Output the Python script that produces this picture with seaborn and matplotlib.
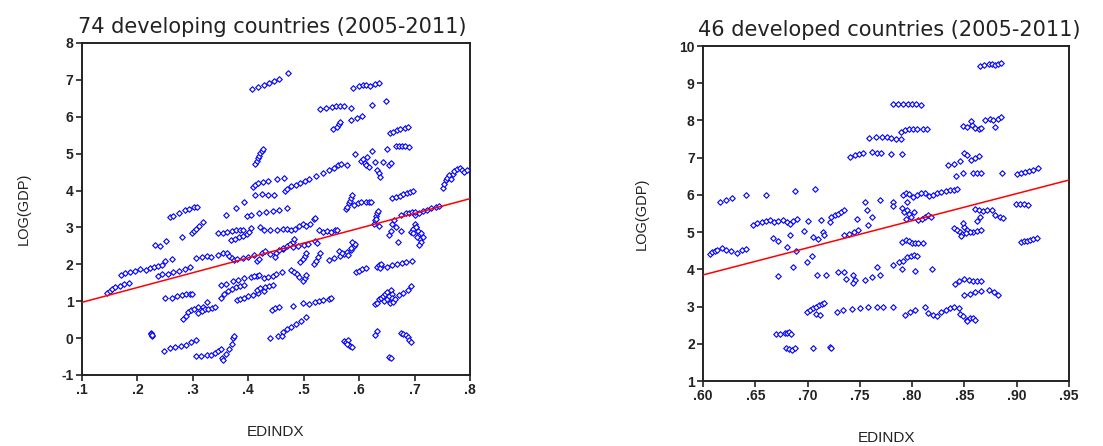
import matplotlib
matplotlib.use("Agg")
import matplotlib.pyplot as plt
import seaborn as sns
import pandas as pd

# 74 developing countries: EDINDX vs LOG(GDP)
dev_x = [
    .407, .418, .428, .438, .446, .456, .472,
    .589, .600, .607, .613, .620, .628, .635,
    .530, .541, .551, .558, .566, .572, .585, .624, .649,
    .553, .560, .564, .566, .586, .596, .606,
    .656, .662, .668, .674, .683, .689,
    .667, .672, .678, .683, .690,
    .592, .603, .607, .610, .612, .614, .617,
    .624, .628, .632, .635, .638, .643, .650, .653, .657,
    .466, .470, .478, .486, .494, .502, .510,
    .522, .534, .546, .555, .562, .568, .578,
    .408, .412, .418, .426, .436, .451, .465,
    .412, .415, .418, .420, .422, .424, .426,
    .360, .378, .393, .412, .425, .436, .446,
    .398, .405, .420, .432, .445, .455, .470,
    .345, .355, .362, .370, .378, .385, .390,
    .368, .376, .384, .390, .397, .402, .405,
    .422, .428, .440, .452, .462, .470, .478,
    .484, .491, .498, .504, .512, .518, .520,
    .528, .535, .542, .549, .556, .560, .520, .524,
    .576, .578, .582, .584, .586, .588,
    .590, .598, .604, .612, .618, .622,
    .626, .628, .630, .632, .634, .636, .630,
    .660, .667, .674, .680, .686, .692, .697,
    .752, .754, .756, .758, .762, .765, .770,
    .772, .776, .782, .786, .790, .795,
    .700, .708, .715, .722, .730, .738, .745,
    .676, .684, .690, .696, .700,
    .700, .703, .706, .708, .710, .712, .708,
    .694, .698, .702, .697, .705, .712, .716,
    .653, .657, .660, .663, .666, .670, .676,
    .640, .650, .660, .668, .677, .685, .695,
    .633, .636, .638, .640,
    .628, .632, .636, .640, .643, .646, .650,
    .645, .650, .654, .657, .660, .655, .660, .662, .664,
    .672, .680, .688, .694,
    .572, .576, .580, .582, .584, .588, .578,
    .632, .628, .654, .658,
    .675, .680, .684, .688, .690, .693,
    .594, .600, .606, .612,
    .454, .462, .470, .478, .486, .495, .505, .439, .460,
    .443, .448, .456, .480, .498, .510, .520, .528, .535, .545, .550,
    .478, .482, .488, .492, .498, .502, .505,
    .494, .498, .502, .504,
    .518, .522, .526, .529,
    .545, .555, .565, .572, .578, .585, .590,
    .564, .570, .580, .586, .592, .588,
    .462, .470, .476, .480, .482,
    .345, .355, .362, .365, .370, .375, .380,
    .390, .400, .410, .415, .420, .425,
    .306, .316, .325, .333,
    .215, .222, .230, .238, .245, .250, .262,
    .170, .178, .186, .196, .205,
    .145, .150, .155, .160, .168, .176, .185,
    .237, .245, .255, .265, .275, .285, .295,
    .232, .240, .252, .280,
    .258, .265, .275, .285, .293, .302, .307,
    .298, .302, .306, .312, .318,
    .250, .262, .272, .280, .288, .295, .298,
    .282, .288, .292, .297, .302, .310, .318,
    .310, .316, .322, .328, .334, .340, .326,
    .350, .360, .372, .382, .393, .405, .415,
    .350, .357, .363, .370, .378, .385, .392,
    .380, .386, .392, .400, .408, .418, .428,
    .410, .420, .428, .436, .444, .450, .460,
    .415, .422, .430, .438, .445,
    .224, .225, .226, .227,
    .248, .258, .268, .278, .288, .296, .306,
    .305, .315, .325, .333, .340,
    .345, .350, .352, .355, .360, .365, .370, .372, .374,
    .430, .440, .450, .455, .462, .448,
    .480, .490, .500, .508,
]
dev_y = [
    6.75, 6.80, 6.85, 6.92, 6.97, 7.02, 7.18,
    6.77, 6.84, 6.87, 6.87, 6.83, 6.90, 6.92,
    6.20, 6.24, 6.27, 6.29, 6.28, 6.28, 6.24, 6.33, 6.42,
    5.66, 5.72, 5.80, 5.85, 5.90, 5.96, 6.02,
    5.55, 5.60, 5.63, 5.66, 5.69, 5.73,
    5.21, 5.20, 5.20, 5.20, 5.19,
    5.00, 4.80, 4.85, 4.75, 4.70, 4.90, 4.65,
    5.08, 4.78, 4.55, 4.48, 4.38, 4.78, 5.13, 4.68, 4.75,
    3.98, 4.05, 4.12, 4.16, 4.20, 4.25, 4.32,
    4.40, 4.47, 4.55, 4.62, 4.68, 4.72, 4.68,
    4.10, 4.16, 4.20, 4.24, 4.27, 4.32, 4.35,
    4.72, 4.80, 4.88, 4.95, 5.02, 5.08, 5.12,
    3.35, 3.53, 3.70, 3.88, 3.90, 3.89, 3.88,
    3.32, 3.35, 3.40, 3.43, 3.44, 3.46, 3.52,
    2.85, 2.86, 2.88, 2.90, 2.92, 2.93, 2.92,
    2.67, 2.70, 2.73, 2.78, 2.83, 2.87, 2.98,
    3.02, 2.93, 2.92, 2.93, 2.95, 2.97, 2.92,
    2.95, 3.03, 3.08, 3.05, 3.10, 3.22, 3.25,
    2.92, 2.87, 2.90, 2.88, 2.92, 2.93, 2.62, 2.58,
    3.50, 3.55, 3.65, 3.72, 3.80, 3.88,
    3.60, 3.65, 3.68, 3.70, 3.70, 3.68,
    3.10, 3.20, 3.30, 3.38, 3.45, 3.05, 3.22,
    3.80, 3.83, 3.86, 3.90, 3.93, 3.96, 4.00,
    4.08, 4.18, 4.28, 4.35, 4.42, 4.32, 4.45,
    4.52, 4.58, 4.62, 4.55, 4.50, 4.55,
    3.35, 3.40, 3.45, 3.48, 3.52, 3.55, 3.58,
    3.35, 3.38, 3.40, 3.42, 3.43,
    3.10, 3.00, 2.90, 2.80, 2.70, 2.60, 2.53,
    2.88, 2.95, 3.02, 2.85, 2.75, 2.85, 2.75,
    2.80, 2.90, 3.10, 3.20, 3.00, 2.60, 2.90,
    1.95, 1.93, 1.97, 2.00, 2.03, 2.06, 2.10,
    1.92, 1.97, 1.90, 2.00,
    0.92, 0.95, 1.05, 1.10, 1.15, 1.20, 1.25,
    1.00, 1.05, 1.15, 1.30, 1.20, 0.95, 1.10, 0.98, 1.05,
    1.18, 1.22, 1.30, 1.40,
    -0.07, -0.10, -0.05, -0.18, -0.22, -0.25, -0.15,
    0.20, 0.08, -0.50, -0.55,
    0.15, 0.12, 0.08, 0.02, -0.05, -0.10,
    1.78, 1.82, 1.86, 1.90,
    0.05, 0.17, 0.25, 0.30, 0.38, 0.47, 0.58, 0.00, 0.07,
    0.75, 0.82, 0.83, 0.87, 0.95, 0.93, 0.98, 1.00, 1.03, 1.06, 1.08,
    1.85, 1.80, 1.75, 1.65, 1.55, 1.62, 1.70,
    2.05, 2.15, 2.22, 2.30,
    2.02, 2.10, 2.20, 2.30,
    2.12, 2.18, 2.22, 2.28, 2.33, 2.40, 2.50,
    2.35, 2.30, 2.25, 2.45, 2.55, 2.60,
    2.42, 2.50, 2.55, 2.60, 2.70,
    2.25, 2.30, 2.32, 2.22, 2.17, 2.12, 2.15,
    2.18, 2.20, 2.25, 2.10, 2.15, 2.30,
    2.18, 2.20, 2.22, 2.21,
    1.85, 1.90, 1.92, 1.95, 1.98, 2.08, 2.15,
    1.72, 1.76, 1.80, 1.82, 1.86,
    1.22, 1.28, 1.32, 1.38, 1.42, 1.47, 1.50,
    1.68, 1.73, 1.75, 1.78, 1.82, 1.87, 1.92,
    2.52, 2.50, 2.62, 2.73,
    3.28, 3.32, 3.40, 3.47, 3.50, 3.55, 3.56,
    2.85, 2.90, 2.95, 3.05, 3.15,
    1.08, 1.10, 1.14, 1.17, 1.19, 1.20, 1.20,
    0.52, 0.60, 0.70, 0.75, 0.80, 0.83, 0.85,
    0.68, 0.73, 0.78, 0.80, 0.82, 0.85, 0.97,
    1.45, 1.48, 1.55, 1.58, 1.62, 1.65, 1.68,
    1.10, 1.20, 1.28, 1.32, 1.38, 1.40, 1.45,
    1.02, 1.05, 1.10, 1.15, 1.18, 1.22, 1.28,
    1.68, 1.70, 1.62, 1.65, 1.68, 1.75, 1.78,
    1.30, 1.35, 1.38, 1.42, 1.45,
    0.15, 0.10, 0.05, 0.08,
    -0.35, -0.28, -0.25, -0.22, -0.18, -0.10, -0.05,
    -0.48, -0.48, -0.47, -0.45, -0.40,
    -0.35, -0.30, -0.55, -0.60, -0.42, -0.30, -0.15, 0.00, 0.05,
    2.35, 2.28, 2.32, 2.40, 2.45, 2.20,
    2.48, 2.50, 2.52, 2.55,
]

# 46 developed countries
dvd_x = [
    .865, .869, .873, .876, .879, .882, .885,
    .782, .786, .791, .796, .800, .804, .808,
    .789, .793, .797, .801, .805, .810, .814,
    .759, .765, .771, .776, .780, .785, .789,
    .741, .745, .749, .753, .762, .766, .770, .780, .790,
    .849, .852, .857, .860, .864, .856, .866,
    .870, .874, .877, .879, .882, .885,
    .834, .840, .846, .850, .852, .856, .860, .864,
    .842, .849, .858, .862, .866, .886,
    .900, .904, .908, .912, .916, .920,
    .899, .903, .907, .911,
    .904, .907, .910, .913, .916, .919,
    .860, .864, .868, .872, .876, .862, .865,
    .879, .884, .887, .858, .862, .866,
    .840, .843, .846, .848, .850, .852, .855, .849, .847, .851,
    .812, .816, .820, .824, .828, .832, .836, .840, .843,
    .791, .794, .797, .801, .805, .808, .795,
    .790, .792, .795, .797, .799, .802, .794,
    .806, .809, .812, .815, .818,
    .790, .794, .797, .800, .803, .806, .810,
    .795, .799, .802, .805,
    .782, .787, .791, .790, .803, .819,
    .841, .845, .850, .854, .858, .862, .866,
    .850, .855, .860, .866, .873, .878, .882,
    .812, .815, .820, .824, .828, .832, .836, .840, .845,
    .793, .798, .803,
    .846, .849, .852, .855, .858, .860, .852,
    .699, .702, .705, .708, .711, .714, .716, .708, .712,
    .728, .734, .742, .750, .758, .766, .772, .782,
    .670, .674, .678, .680, .682, .684,
    .679, .682, .685, .688, .705, .721, .722,
    .607, .609, .611, .613,
    .618, .622, .627, .632, .637, .641,
    .616, .622, .628, .641, .660, .688, .707,
    .648, .652, .656, .660, .664, .668, .672, .676, .680,
    .683, .686, .690, .700, .713, .721,
    .667, .672, .683, .697, .699, .704, .705, .710, .715, .716, .680, .689,
    .722, .726, .729, .732, .735,
    .735, .740, .744, .748,
    .747, .755, .757, .758, .762,
    .672, .686, .709, .718, .729, .735, .737, .743, .745, .743, .755, .762,
    .769, .766, .769, .782, .782,
]
dvd_y = [
    9.47, 9.49, 9.52, 9.51, 9.50, 9.53, 9.55,
    8.43, 8.45, 8.45, 8.43, 8.44, 8.43, 8.42,
    7.70, 7.74, 7.77, 7.78, 7.76, 7.77, 7.78,
    7.53, 7.55, 7.56, 7.55, 7.52, 7.51, 7.50,
    7.03, 7.06, 7.10, 7.13, 7.15, 7.12, 7.12, 7.10, 7.10,
    7.85, 7.83, 7.88, 7.80, 7.78, 7.98, 7.80,
    8.02, 8.03, 8.00, 7.82, 8.05, 8.08,
    6.80, 6.84, 6.90, 7.12, 7.08, 6.95, 7.00, 7.05,
    6.52, 6.58, 6.60, 6.58, 6.60, 6.60,
    6.55, 6.58, 6.62, 6.65, 6.68, 6.72,
    5.75, 5.76, 5.75, 5.74,
    4.73, 4.75, 4.77, 4.80, 4.82, 4.83,
    5.62, 5.60, 5.58, 5.60, 5.60, 5.30, 5.40,
    5.45, 5.40, 5.38, 5.00, 5.02, 5.05,
    5.10, 5.05, 5.00, 4.95, 5.15, 5.05, 5.00, 5.25, 4.90, 4.98,
    6.05, 5.97, 6.00, 6.05, 6.08, 6.10, 6.12, 6.13, 6.15,
    6.00, 6.05, 6.02, 5.95, 6.00, 6.05, 5.80,
    5.65, 5.55, 5.60, 5.50, 5.40, 5.55, 5.35,
    5.33, 5.35, 5.40, 5.45, 5.42,
    4.73, 4.78, 4.77, 4.72, 4.70, 4.71, 4.70,
    4.32, 4.35, 4.38, 4.36,
    4.13, 4.20, 4.22, 4.02, 3.95, 4.00,
    3.60, 3.70, 3.74, 3.72, 3.70, 3.70, 3.70,
    3.30, 3.35, 3.40, 3.43, 3.45, 3.38, 3.30,
    3.00, 2.82, 2.77, 2.75, 2.85, 2.90, 2.95, 2.98, 2.95,
    2.78, 2.85, 2.92,
    2.80, 2.75, 2.65, 2.70, 2.68, 2.65, 2.60,
    2.85, 2.90, 2.95, 3.00, 3.05, 3.08, 3.10, 2.80, 2.78,
    2.85, 2.90, 2.93, 2.95, 2.98, 3.00, 2.98, 2.98,
    2.25, 2.27, 2.30, 2.28, 2.32, 2.25,
    1.88, 1.85, 1.82, 1.90, 1.88, 1.92, 1.90,
    4.42, 4.46, 4.50, 4.53,
    4.57, 4.53, 4.48, 4.45, 4.52, 4.55,
    5.82, 5.85, 5.92, 6.00, 6.00, 6.10, 6.17,
    5.20, 5.25, 5.28, 5.30, 5.33, 5.28, 5.30, 5.32, 5.28,
    5.22, 5.30, 5.35, 5.30, 5.33, 5.28,
    4.85, 4.75, 4.93, 5.03, 4.20, 4.35, 4.88, 4.82, 5.00, 4.92, 4.60, 4.48,
    5.40, 5.45, 5.50, 5.55, 5.60,
    4.92, 4.95, 5.00, 5.05,
    5.35, 5.80, 5.60, 5.20, 5.40,
    3.82, 4.05, 3.85, 3.85, 3.93, 3.92, 3.75, 3.85, 3.72, 3.62, 3.72, 3.80,
    3.85, 4.05, 5.85, 5.80, 5.70,
]

# fitted regression lines (end points)
dev_fit_x = [0.10, 0.80]
dev_fit_y = [0.97, 3.78]
dvd_fit_x = [0.60, 0.95]
dvd_fit_y = [3.85, 6.40]

dev = pd.DataFrame({"EDINDX": dev_x, "LOGGDP": dev_y})
dvd = pd.DataFrame({"EDINDX": dvd_x, "LOGGDP": dvd_y})

sns.set_style("ticks")
plt.rcParams["font.family"] = ["Liberation Sans", "DejaVu Sans"]
plt.rcParams["axes.unicode_minus"] = False

fig = plt.figure(figsize=(11.03, 4.46), dpi=100)
ax1 = fig.add_axes([0.0743, 0.1592, 0.3518, 0.7444])
ax2 = fig.add_axes([0.6374, 0.1457, 0.3318, 0.7511])

panels = [
    (ax1, dev, dev_fit_x, dev_fit_y, "74 developing countries (2005-2011)",
     (0.1, 0.8), [.1, .2, .3, .4, .5, .6, .7, .8], 1, (-1, 8), range(-1, 9), 0.49),
    (ax2, dvd, dvd_fit_x, dvd_fit_y, "46 developed countries (2005-2011)",
     (0.60, 0.95), [.60, .65, .70, .75, .80, .85, .90, .95], 2, (1, 10), range(1, 11), 0.51),
]

for ax, df, fx, fy, title, xlim, xt, nd, ylim, yt, tx in panels:
    sns.scatterplot(data=df, x="EDINDX", y="LOGGDP", ax=ax, marker="D", s=8,
                    facecolor="white", edgecolor="#0000ff", linewidth=0.8, zorder=3)
    sns.lineplot(x=fx, y=fy, ax=ax, color="#ff0000", linewidth=1.1, zorder=4)
    ax.set_xlim(*xlim)
    ax.set_ylim(*ylim)
    ax.set_xticks(xt)
    ax.set_xticklabels(["." + f"{v:.{nd}f}".split(".")[1] for v in xt])
    ax.set_yticks(list(yt))
    ax.tick_params(labelsize=10, length=4, width=1.2, direction="out", pad=2,
                   colors="#222222")
    for lab in ax.get_xticklabels() + ax.get_yticklabels():
        lab.set_fontweight("bold")
    for sp in ax.spines.values():
        sp.set_visible(True)
        sp.set_linewidth(1.4)
        sp.set_color("#222222")
    ax.set_xlabel("EDINDX", fontsize=11, labelpad=20, color="#222222")
    ax.set_ylabel("LOG(GDP)", fontsize=10.5, labelpad=22, color="#222222")
    ax.set_title(title, fontsize=15, family=["DejaVu Sans"], x=tx, pad=7,
                 color="#222222")

fig.savefig("out.png", dpi=100)
